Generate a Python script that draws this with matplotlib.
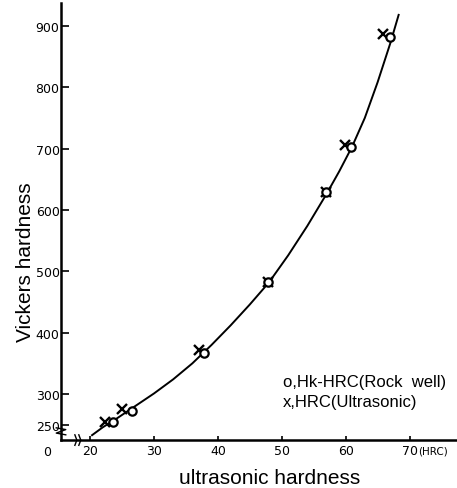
import matplotlib
matplotlib.use("Agg")
import matplotlib.pyplot as plt

# values
hrc_rock = [23.6, 26.6, 37.9, 47.9, 56.9, 60.8, 67.0]
hv_rock = [254, 272, 367, 483, 629, 703, 882]
hrc_ultra = [22.4, 25.0, 37.0, 47.9, 56.9, 59.9, 65.9]
hv_ultra = [254, 275, 372, 483, 629, 706, 887]

curve_hrc = [20.3, 22, 24, 26, 28, 30, 33, 36, 39, 42, 45, 48, 51, 54, 57, 59,
             61, 63, 65, 67, 68.3]
curve_hv = [233, 246, 259, 273, 287, 301, 324, 350, 380, 412, 446, 482, 526,
            574, 626, 663, 703, 750, 808, 872, 918]

x_ticks = [20, 30, 40, 50, 60, 70]
y_ticks = [250, 300, 400, 500, 600, 700, 800, 900]

fig = plt.figure(figsize=(4.57, 4.89), dpi=100)
ax = fig.add_axes([0.1335, 0.098, 0.866, 0.894])

ax.plot(curve_hrc, curve_hv, color="black", lw=1.4, zorder=2)
ax.plot(hrc_ultra, hv_ultra, "x", color="black", ms=6.5, mew=1.7, zorder=3)
ax.plot(hrc_rock, hv_rock, "o", mfc="white", mec="black", ms=6, mew=1.6,
        zorder=4)

ax.set_xlim(15.44, 77.4)
ax.set_ylim(225, 937.5)

for s in ["top", "right"]:
    ax.spines[s].set_visible(False)
ax.spines["left"].set_linewidth(1.8)
ax.spines["bottom"].set_linewidth(1.8)

ax.set_xticks(x_ticks)
ax.set_yticks(y_ticks)
ax.set_yticklabels([str(v) for v in y_ticks])
ax.tick_params(axis="y", direction="in", length=6, width=1.2, pad=1,
               labelsize=9)
ax.tick_params(axis="x", direction="in", length=3, width=1.2, pad=3,
               labelsize=9)

# unit after the 70 label and the 0 at the origin
ax.text(71.3, -0.013, "(HRC)", transform=ax.get_xaxis_transform(),
        fontsize=7.5, va="top", ha="left")
ax.text(-0.025, -0.012, "0", transform=ax.transAxes, fontsize=9,
        va="top", ha="right")

# axis break marks
ax.plot([-0.012, 0.012, -0.012, 0.012], [0.028, 0.024, 0.016, 0.012],
        transform=ax.transAxes, color="black", lw=1, clip_on=False)
ax.plot([0.035, 0.04, 0.035], [0.012, 0.0, -0.012],
        transform=ax.transAxes, color="black", lw=1, clip_on=False)
ax.plot([0.045, 0.05, 0.045], [0.012, 0.0, -0.012],
        transform=ax.transAxes, color="black", lw=1, clip_on=False)

ax.set_ylabel("Vickers hardness", family="Liberation Sans", fontsize=15)
ax.yaxis.set_label_coords(-0.065, 0.41)
ax.set_xlabel("ultrasonic hardness", family="Liberation Sans", fontsize=15)
ax.xaxis.set_label_coords(0.528, -0.065)

ax.text(0.56, 0.07, "o,Hk-HRC(Rock  well)\nx,HRC(Ultrasonic)",
        transform=ax.transAxes, family="Liberation Sans", fontsize=12,
        linespacing=1.45, va="bottom", ha="left")

fig.savefig("out.png", dpi=100)
